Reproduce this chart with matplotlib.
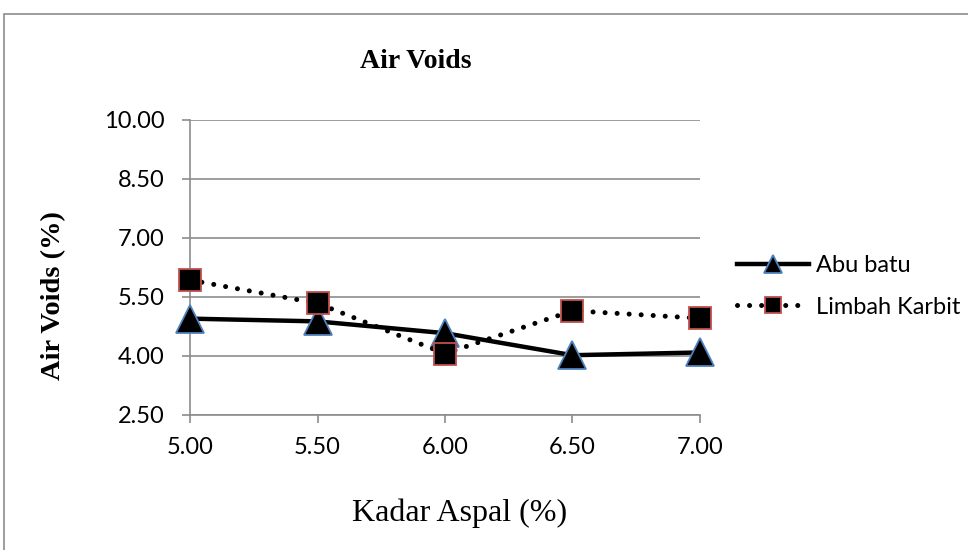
import matplotlib
matplotlib.use("Agg")
import matplotlib.pyplot as plt
from matplotlib.patches import Rectangle

kadar_aspal = [5.00, 5.50, 6.00, 6.50, 7.00]
abu_batu = [4.95, 4.88, 4.58, 4.02, 4.09]
limbah_karbit = [5.93, 5.34, 4.06, 5.15, 4.96]
y_ticks = [2.50, 4.00, 5.50, 7.00, 8.50, 10.00]

tick_font = "Lato"
serif = "Liberation Serif"

fig = plt.figure(figsize=(9.68, 5.5), dpi=100)
ax = fig.add_axes([190 / 968, 1 - 415 / 550, 510 / 968, 295 / 550])

# outer chart border
fig.patches.append(Rectangle((4 / 968, -0.05), 1.0, 1 - 14 / 550 + 0.05, transform=fig.transFigure,
                             fill=False, edgecolor="#8c8c8c", linewidth=1.2))

ax.plot(kadar_aspal, abu_batu, color="black", linewidth=3.2, marker="^", markersize=20,
        markerfacecolor="black", markeredgecolor="#4f81bd", markeredgewidth=1.3,
        label="Abu batu", zorder=3)
ax.plot(kadar_aspal, limbah_karbit, color="black", linewidth=3.6, linestyle=(0, (0.01, 2.4)),
        dash_capstyle="round", marker="s", markersize=16, markerfacecolor="black",
        markeredgecolor="#c0504d", markeredgewidth=1.3, label="Limbah Karbit", zorder=4)

ax.set_xlim(5.0, 7.0)
ax.set_ylim(2.5, 10.0)
ax.set_xticks(kadar_aspal)
ax.set_xticklabels(["%.2f" % v for v in kadar_aspal], fontname=tick_font, fontsize=17)
ax.set_yticks(y_ticks)
ax.set_yticklabels(["%.2f" % v for v in y_ticks], fontname=tick_font, fontsize=17)
ax.yaxis.grid(True, color="#8c8c8c", linewidth=1.2)
ax.set_axisbelow(True)
for s in ["top", "right"]:
    ax.spines[s].set_visible(False)
for s in ["left", "bottom"]:
    ax.spines[s].set_color("#8c8c8c")
    ax.spines[s].set_linewidth(1.2)
ax.tick_params(axis="both", direction="out", length=5.5, color="#8c8c8c", width=1.2)
ax.tick_params(axis="y", pad=13)
ax.tick_params(axis="x", pad=10)
for line in ax.lines:
    line.set_clip_on(False)

fig.text(416 / 968, 1 - 61 / 550, "Air Voids", fontname=serif, fontweight="bold",
         fontsize=20, ha="center", va="center")
fig.text(54 / 968, 1 - 296 / 550, "Air Voids (%)", fontname=serif, fontweight="bold",
         fontsize=20.5, rotation=90, ha="center", va="center")
fig.text(460 / 968, 1 - 513 / 550, "Kadar Aspal (%)", fontname=serif, fontsize=23,
         ha="center", va="center")

leg = fig.legend(loc="center left", bbox_to_anchor=(737 / 968, 1 - 286.5 / 550), frameon=False,
                 prop={"family": tick_font, "size": 17}, handlelength=3.05,
                 labelspacing=0.85, handletextpad=0.3, markerscale=0.68,
                 borderpad=0, borderaxespad=0)

fig.savefig("out.png", dpi=100)
